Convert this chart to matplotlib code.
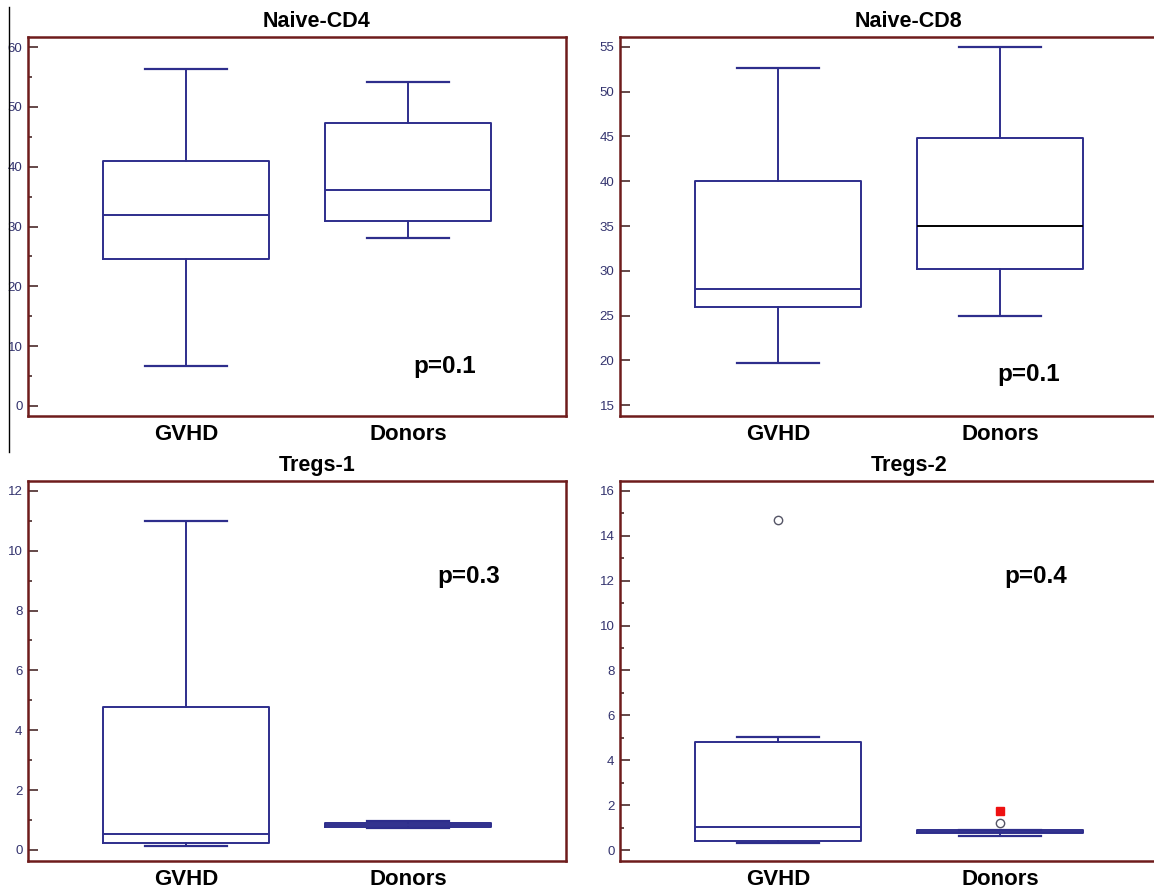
import matplotlib
matplotlib.use("Agg")
import matplotlib.pyplot as plt
from matplotlib.lines import Line2D
from matplotlib.ticker import MultipleLocator

plt.rcParams['font.family'] = ['Liberation Sans', 'DejaVu Sans']

# ---------------- data ----------------
titles = ["Naive-CD4", "Naive-CD8", "Tregs-1", "Tregs-2"]
groups = ["GVHD", "Donors"]
p_values = ["p=0.1", "p=0.1", "p=0.3", "p=0.4"]

# [whisker low, Q1, median, Q3, whisker high]
cd4_gvhd = [6.7, 24.5, 32.0, 41.0, 56.4]
cd4_donors = [28.0, 30.9, 36.1, 47.3, 54.1]
cd8_gvhd = [19.7, 26.0, 28.0, 40.0, 52.6]
cd8_donors = [25.0, 30.2, 35.0, 44.8, 55.0]
t1_gvhd = [0.13, 0.23, 0.53, 4.78, 11.0]
t1_donors = [0.72, 0.78, 0.84, 0.90, 0.97]
t2_gvhd = [0.31, 0.40, 1.02, 4.80, 5.02]
t2_donors = [0.62, 0.75, 0.82, 0.90, 0.90]

outliers = {  # open circles
    3: [[14.7], [1.2]],
}
far_outliers = {  # red squares
    3: [[], [1.73]],
}

y_limits = [(-1.7, 61.7), (13.8, 56.1), (-0.37, 12.33), (-0.49, 16.44)]
y_major = [10, 5, 2, 2]
y_minor = [5, None, 1, 1]

panel_data = [(cd4_gvhd, cd4_donors), (cd8_gvhd, cd8_donors),
              (t1_gvhd, t1_donors), (t2_gvhd, t2_donors)]

# ---------------- styles ----------------
W, H = 1154, 892
box_color = '#2e2e8c'
spine_color = '#6e1c1c'
tick_color = '#4a2a2a'
label_color = '#33336e'

fig = plt.figure(figsize=(W / 100, H / 100), dpi=100)

# axes rectangles in pixels: left, top, right, bottom
rects = [(28, 37, 566, 416), (620, 37, 1158, 416),
         (28, 481, 566, 861), (620, 481, 1158, 861)]
p_pos = [(0.775, 0.13), (0.76, 0.11), (0.82, 0.75), (0.773, 0.75)]

for i, (l, t, r, b) in enumerate(rects):
    ax = fig.add_axes([l / W, 1 - b / H, (r - l) / W, (b - t) / H])
    stats = []
    for j, vals in enumerate(panel_data[i]):
        fl = outliers.get(i, [[], []])[j]
        stats.append(dict(whislo=vals[0], q1=vals[1], med=vals[2],
                          q3=vals[3], whishi=vals[4], fliers=fl, label=groups[j]))
    med_colors = [box_color, 'black' if i == 1 else box_color]
    bp = ax.bxp(stats, positions=[1, 2], widths=0.75, capwidths=0.37,
                showfliers=True,
                boxprops=dict(color=box_color, linewidth=1.4),
                whiskerprops=dict(color=box_color, linewidth=1.4),
                capprops=dict(color=box_color, linewidth=1.6),
                medianprops=dict(color=box_color, linewidth=1.4),
                flierprops=dict(marker='o', markerfacecolor='white',
                                markeredgecolor='#555566', markersize=6,
                                markeredgewidth=1.0))
    for j, m in enumerate(bp['medians']):
        m.set_color(med_colors[j])
    if i in far_outliers:
        for j, vals in enumerate(far_outliers[i]):
            if vals:
                ax.plot([j + 1] * len(vals), vals, marker='s', linestyle='none',
                        color='#ee1111', markersize=6)

    ax.set_xlim(0.288, 2.712)
    ax.set_ylim(*y_limits[i])
    ax.yaxis.set_major_locator(MultipleLocator(y_major[i]))
    if y_minor[i]:
        ax.yaxis.set_minor_locator(MultipleLocator(y_minor[i]))
    ax.tick_params(axis='y', which='major', direction='in', length=7,
                   width=1.2, color=tick_color, labelsize=9.5,
                   labelcolor=label_color, pad=4)
    ax.tick_params(axis='y', which='minor', direction='in', length=3,
                   width=1.2, color=tick_color)
    ax.tick_params(axis='x', length=0, pad=6)
    ax.set_xticks([1, 2])
    ax.set_xticklabels(groups, fontsize=16, fontweight='bold')
    for s in ax.spines.values():
        s.set_color(spine_color)
        s.set_linewidth(1.8)
    ax.set_title(titles[i], fontsize=15.5, fontweight='bold', x=0.537, pad=7)
    ax.text(p_pos[i][0], p_pos[i][1], p_values[i], transform=ax.transAxes,
            fontsize=17.5, fontweight='bold', ha='center', va='center')

fig.add_artist(Line2D([9 / W, 9 / W], [1 - 7 / H, 1 - 452 / H],
                      transform=fig.transFigure, color='black', linewidth=1))

fig.savefig('out.png', dpi=100)
